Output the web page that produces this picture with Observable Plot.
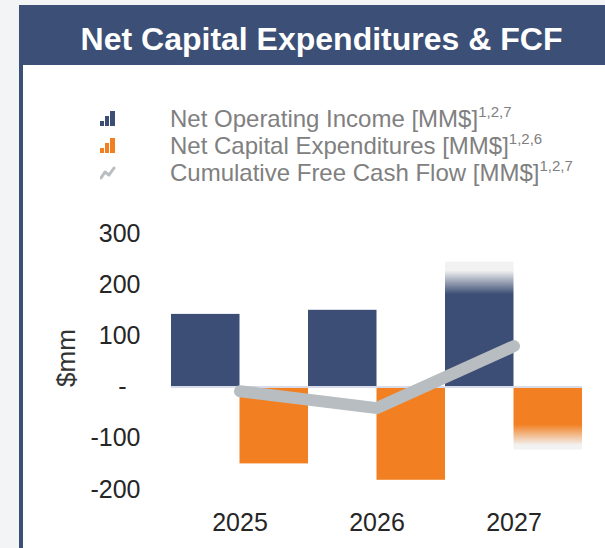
<!DOCTYPE html>
<html><head><meta charset="utf-8">
<script src="https://cdn.jsdelivr.net/npm/d3@7"></script>
<script src="https://cdn.jsdelivr.net/npm/@observablehq/plot@0.6"></script>
<style>
html,body{margin:0;padding:0;width:605px;height:548px;overflow:hidden;background:#f3f4f6;font-family:Arial,"Liberation Sans",sans-serif;}
#panel{position:absolute;left:19px;top:5px;width:620px;height:600px;background:#3c4f76;}
#inner{position:absolute;left:23px;top:65px;width:620px;height:600px;background:#fff;}
#title{position:absolute;left:19px;top:5px;width:605px;height:56px;padding-top:4px;line-height:60px;text-align:center;color:#fff;font-weight:bold;font-size:32px;white-space:nowrap;}
.lg{position:absolute;left:100px;height:27px;line-height:27px;font-size:24px;color:#808080;white-space:nowrap;}
.lg svg{position:absolute;left:0;top:6px;}
.lg span{position:absolute;left:70px;top:0;}
.lg sup{font-size:15px;vertical-align:0;position:relative;top:-10px;}
#ylab{position:absolute;left:66px;top:358px;transform:translate(-50%,-50%) rotate(-90deg);font-size:26px;color:#333;white-space:nowrap;}
#chart{position:absolute;left:0;top:200px;}
</style></head>
<body>
<div id="panel"></div><div id="inner"></div>
<div id="title"></div>
<div id="legend"></div>
<div id="ylab"></div>
<div id="chart"></div>
<script>
const title = "Net Capital Expenditures & FCF";
const yLabel = "$mm";
const years = [2025, 2026, 2027];
const netOperatingIncome = [142, 150, 244];
const netCapitalExpenditures = [-150, -182, -123];
const cumulativeFCF = [-8, -41, 80];
const fadedYears = [2027];
const yTicks = [-200, -100, 0, 100, 200, 300];
const seriesLabels = ["Net Operating Income [MM$]", "Net Capital Expenditures [MM$]", "Cumulative Free Cash Flow [MM$]"];
const seriesNotes = ["1,2,7", "1,2,6", "1,2,7"];

const NAVY = "#3c4e75", ORANGE = "#f28022", GRAY = "#b8bdc1", FADE = "#f2f2f2";

document.getElementById("title").textContent = title;
document.getElementById("ylab").textContent = yLabel;

// legend
const icons = [
  `<svg width="16" height="16"><rect x="0" y="10" width="4" height="5" fill="${NAVY}"/><rect x="5" y="5" width="4" height="10" fill="${NAVY}"/><rect x="10" y="0" width="5" height="15" fill="${NAVY}"/></svg>`,
  `<svg width="16" height="16"><rect x="0" y="10" width="4" height="5" fill="${ORANGE}"/><rect x="5" y="5" width="4" height="10" fill="${ORANGE}"/><rect x="10" y="0" width="5" height="15" fill="${ORANGE}"/></svg>`,
  `<svg width="16" height="16"><polyline points="1,13 5,7 9,10 14,3" fill="none" stroke="${GRAY}" stroke-width="3" stroke-linejoin="round" stroke-linecap="round"/></svg>`
];
const legend = document.getElementById("legend");
seriesLabels.forEach((lab, i) => {
  const row = document.createElement("div");
  row.className = "lg";
  row.style.top = (104.5 + i * 27) + "px";
  row.innerHTML = icons[i];
  const span = document.createElement("span");
  span.textContent = lab;
  const sup = document.createElement("sup");
  sup.textContent = seriesNotes[i];
  span.appendChild(sup);
  row.appendChild(span);
  legend.appendChild(row);
});

const rows = years.map((year, i) => ({
  year,
  noi: netOperatingIncome[i],
  capex: netCapitalExpenditures[i],
  fcf: cumulativeFCF[i],
  faded: fadedYears.includes(year)
}));

const chart = Plot.plot({
  width: 605, height: 348,
  marginLeft: 171, marginRight: 23, marginTop: 33, marginBottom: 59,
  x: {type: "linear", domain: [years[0] - 0.5, years[years.length - 1] + 0.5]},
  y: {domain: [yTicks[0], yTicks[yTicks.length - 1]]},
  style: {fontFamily: "Arial, 'Liberation Sans', sans-serif", background: "transparent", color: "#262626", overflow: "visible"},
  marks: [
    Plot.rect(rows, {filter: d => !d.faded, x1: d => d.year - 0.5, x2: d => d.year, y1: 0, y2: "noi", fill: NAVY}),
    Plot.rect(rows, {filter: d => d.faded, x1: d => d.year - 0.5, x2: d => d.year, y1: 0, y2: "noi", fill: "url(#fadeNavy)"}),
    Plot.rect(rows, {filter: d => !d.faded, x1: d => d.year, x2: d => d.year + 0.5, y1: 0, y2: "capex", fill: ORANGE}),
    Plot.rect(rows, {filter: d => d.faded, x1: d => d.year, x2: d => d.year + 0.5, y1: 0, y2: "capex", fill: "url(#fadeOrange)"}),
    Plot.ruleY([0], {stroke: "#d8dce8", strokeWidth: 2}),
    Plot.line(rows, {x: "year", y: "fcf", stroke: GRAY, strokeWidth: 12, strokeLinecap: "round", strokeLinejoin: "round"}),
    Plot.axisY(yTicks, {tickSize: 0, tickPadding: 31, fontSize: 25, label: null,
      tickFormat: d => d === 0 ? "-\u00a0\u00a0" : String(d)}),
    Plot.axisX(years, {tickSize: 0, tickPadding: 24, fontSize: 25, label: null, tickFormat: d => String(d)})
  ]
});

const defs = d3.select(chart).insert("defs", ":first-child");
const gN = defs.append("linearGradient").attr("id", "fadeNavy").attr("x1", 0).attr("y1", 0).attr("x2", 0).attr("y2", 1);
[[0, FADE], [0.07, FADE], [0.26, NAVY], [1, NAVY]].forEach(([o, c]) => gN.append("stop").attr("offset", o).attr("stop-color", c));
const gO = defs.append("linearGradient").attr("id", "fadeOrange").attr("x1", 0).attr("y1", 0).attr("x2", 0).attr("y2", 1);
[[0, ORANGE], [0.6, ORANGE], [0.93, FADE], [1, FADE]].forEach(([o, c]) => gO.append("stop").attr("offset", o).attr("stop-color", c));

document.getElementById("chart").appendChild(chart);
</script>
</body></html>
